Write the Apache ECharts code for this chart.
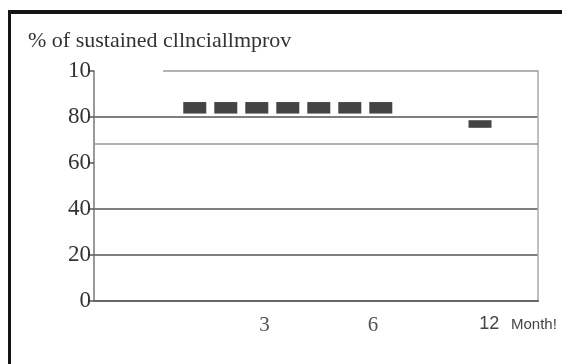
<!DOCTYPE html>
<html>
<head>
<meta charset="utf-8">
<script src="https://cdn.jsdelivr.net/npm/echarts@6/dist/echarts.min.js"></script>
<style>
  body{margin:0;background:#fff;}
  #wrap{position:relative;width:562px;height:364px;}
  #container1{width:562px;height:364px;}
  /* scanned frame: top and left edges only */
  #frame{position:absolute;left:8px;top:10px;right:0;bottom:0;border-top:4px solid #151515;border-left:3px solid #151515;pointer-events:none;}
</style>
</head>
<body>
<div id="wrap">
  <div id="container1"></div>
  <div id="frame"></div>
</div>
<script>
// 数据
var barX = [3.25, 4.25, 5.25, 6.25, 7.25, 8.25, 9.25, 12.45];
var lowVals = [81.5, 81.5, 81.5, 81.5, 81.5, 81.5, 81.5, 75.3];
var highVals = [86.5, 86.5, 86.5, 86.5, 86.5, 86.5, 86.5, 78.6];
var yLabels = ['0', '20', '40', '60', '80', '10'];
var xTickVals = [5.5, 9, 12.75];
var xTickText = ['3', '6', '12'];
var xMax = 14.32;
var refLine = 68.2;      // light line
var topLineStart = 2.23; // top light line starts here

var barData = [];
for (var i = 0; i < barX.length; i++) {
  barData.push([barX[i], lowVals[i], highVals[i]]);
}

var myChart = echarts.init(document.getElementById('container1'));
var option = {
  animation: false,
  title: {
    text: '% of sustained cllnciallmprov',
    left: 23, top: 25,
    textStyle: {fontFamily: 'Liberation Serif', fontWeight: 'normal', fontSize: 22, color: '#333'}
  },
  grid: {left: 94, right: 24, top: 71, bottom: 63},
  xAxis: {
    type: 'value', min: 0, max: xMax, interval: 0.25,
    splitLine: {show: false},
    axisTick: {show: false},
    axisLine: {show: true, lineStyle: {color: '#666', width: 2}},
    name: '\nMonth!', nameLocation: 'end', nameGap: -27,
    nameTextStyle: {fontFamily: 'Liberation Sans', fontSize: 15, lineHeight: 48, color: '#444'},
    axisLabel: {
      margin: 14, showMaxLabel: false,
      formatter: function (v) {
        for (var k = 0; k < xTickVals.length; k++) {
          if (Math.abs(v - xTickVals[k]) < 1e-6) {
            return xTickText[k] === '12' ? '{s|' + xTickText[k] + '}' : '{r|' + xTickText[k] + '}';
          }
        }
        return '';
      },
      rich: {
        r: {fontFamily: 'Liberation Serif', fontSize: 21, color: '#555'},
        s: {fontFamily: 'Liberation Sans', fontSize: 18, color: '#444'}
      }
    }
  },
  yAxis: [{
    type: 'value', min: 0, max: 100, interval: 20,
    axisLine: {show: true, lineStyle: {color: '#777', width: 1.5}},
    axisTick: {show: true, length: 5, lineStyle: {color: '#555', width: 1.5}},
    axisLabel: {
      margin: 3,
      fontFamily: 'Liberation Serif', fontSize: 23, color: '#333',
      formatter: function (v) { return yLabels[Math.round(v / 20)]; }
    },
    splitLine: {show: true, lineStyle: {width: 1.5, color: ['transparent', '#555', '#555', 'transparent', '#555', 'transparent']}}
  }, {
    type: 'value', min: 0, max: 100, position: 'right',
    axisLine: {show: true, lineStyle: {color: '#aaa', width: 1.5}},
    axisTick: {show: false}, axisLabel: {show: false}, splitLine: {show: false}
  }],
  series: [{
    name: 'bars', type: 'custom',
    renderItem: function (params, api) {
      var top = api.coord([api.value(0), api.value(2)]);
      var bot = api.coord([api.value(0), api.value(1)]);
      return {
        type: 'rect',
        shape: {x: top[0] - 11.5, y: top[1], width: 23, height: bot[1] - top[1]},
        style: {fill: '#444'}
      };
    },
    encode: {x: 0, y: [1, 2]},
    data: barData,
    markLine: {
      silent: true, symbol: 'none', label: {show: false},
      lineStyle: {color: '#999', width: 1.5, type: 'solid'},
      data: [
        {yAxis: refLine},
        [{coord: [topLineStart, 100]}, {coord: [xMax, 100]}]
      ]
    }
  }]
};
myChart.setOption(option);
</script>
</body>
</html>
